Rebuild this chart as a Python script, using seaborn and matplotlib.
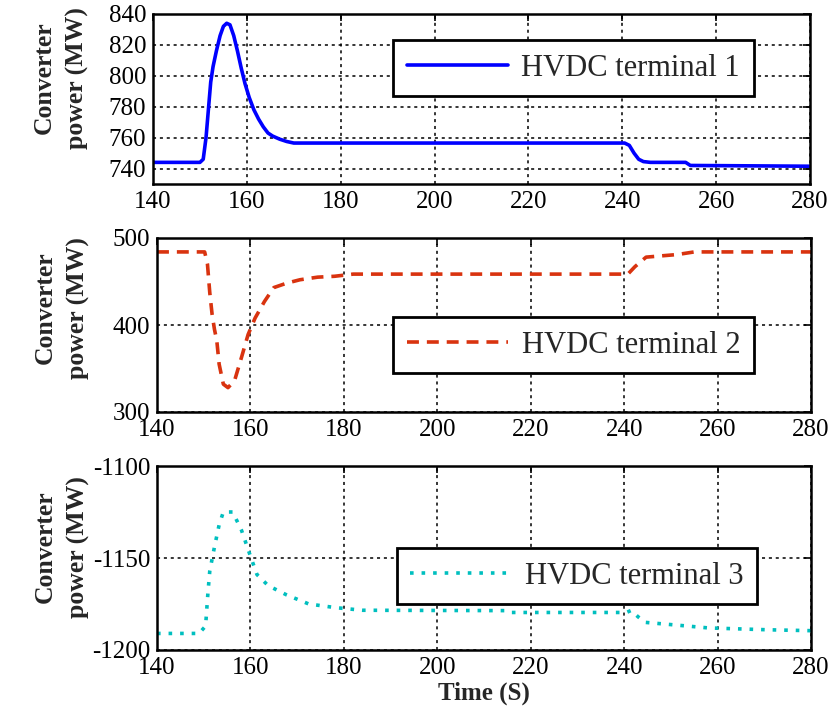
import matplotlib
matplotlib.use("Agg")
import matplotlib.pyplot as plt
import seaborn as sns
import pandas as pd

# ---- data ----
t1 = [140, 150, 150.7, 151.3, 151.8, 152.3, 152.8, 153.5, 154.3, 155.0, 155.7, 156.4,
      157.2, 158.0, 158.8, 159.6, 160.5, 161.5, 162.5, 163.5, 164.5, 165.5, 167, 168.5,
      170, 240.5, 241.5, 242.5, 243.5, 244.5, 246, 253.5, 254.5, 280]
p1 = [744, 744, 746, 760, 778, 796, 806, 816, 826, 832, 834, 833,
      826, 816, 805, 795, 786, 778, 772, 767, 763, 761, 759, 757.5,
      756.5, 756.5, 755, 750, 746, 744.5, 744, 744, 742, 741.5]

t2 = [140, 150.2, 150.8, 151.3, 151.8, 152.3, 152.8, 153.3, 154.2, 155.2, 156.6, 158.1,
      159.5, 161, 163, 165, 167.7, 170.6, 174.4, 178, 182, 240.8, 242.3, 244.7, 251.4,
      255, 280]
p2 = [484, 484, 470, 437, 412, 395, 382, 355, 332, 328, 336, 363,
      389, 408, 427, 443, 448, 452, 455, 456, 458.5, 458.5, 467, 478, 481,
      484, 484]

t3 = [140, 149, 150.4, 150.9, 151.3, 152.3, 153.3, 154.2, 156.2, 158.1, 160, 161.4,
      163.8, 167.7, 172.5, 178.3, 184, 214.8, 215.8, 240.5, 241.5, 243, 244.6,
      251.4, 258, 270.6, 280]
p3 = [-1191, -1191, -1187, -1169, -1157, -1144, -1132, -1125, -1125, -1135, -1149, -1159,
      -1165, -1170, -1175, -1177, -1178.4, -1178.6, -1179.6, -1179.6, -1178.5, -1182, -1185,
      -1186.5, -1188, -1189, -1189.5]

series_labels = ["HVDC terminal 1", "HVDC terminal 2", "HVDC terminal 3"]
x_ticks = [140, 160, 180, 200, 220, 240, 260, 280]
y_ticks = [[740, 760, 780, 800, 820, 840], [300, 400, 500], [-1200, -1150, -1100]]
y_lims = [(730, 840), (300, 500), (-1200, -1100)]

sns.set_style("white")
plt.rcParams["font.family"] = ["Liberation Serif", "DejaVu Serif"]
plt.rcParams["axes.unicode_minus"] = False

fig = plt.figure(figsize=(8.32, 7.23), dpi=100)
positions = [
    [153 / 832, 1 - 184 / 723, 657 / 832, 170 / 723],
    [157 / 832, 1 - 412 / 723, 654 / 832, 174 / 723],
    [157 / 832, 1 - 650 / 723, 654 / 832, 184 / 723],
]
colors = ["#0000FF", "#D9330F", "#00BFBF"]
styles = ["-", (0, (3.3, 2.2)), (0, (1, 2.2))]
datas = [(t1, p1), (t2, p2), (t3, p3)]
leg_pos = [(0.640, 0.682), (0.637, 0.385), (0.642, 0.402)]
ylabel_xy = [(-0.098, 0.624), (-0.103, 0.598), (-0.103, 0.56)]

axes = []
for i in range(3):
    ax = fig.add_axes(positions[i])
    axes.append(ax)
    df = pd.DataFrame({"t": datas[i][0], "p": datas[i][1]})
    sns.lineplot(data=df, x="t", y="p", ax=ax, color=colors[i], linewidth=2.6,
                 label=series_labels[i], estimator=None, sort=False)
    ax.lines[0].set_linestyle(styles[i])
    ax.set_xlim(140, 280)
    ax.set_ylim(*y_lims[i])
    ax.set_xticks(x_ticks)
    ax.set_yticks(y_ticks[i])
    ax.grid(True, color="black", linestyle=(0, (2, 2.5)), linewidth=1.1)
    for s in ax.spines.values():
        s.set_color("black")
        s.set_linewidth(1.8)
    ax.tick_params(direction="in", length=5, width=1.2, top=True, right=True,
                   labelsize=18, pad=5, colors="black")
    ax.set_xlabel("")
    ax.set_ylabel("Converter\npower (MW)", fontsize=18.5, fontweight="bold", linespacing=1.5)
    ax.yaxis.set_label_coords(*ylabel_xy[i])
    leg = ax.legend(loc="center", bbox_to_anchor=leg_pos[i], fontsize=22, frameon=True,
                    fancybox=False, framealpha=1, edgecolor="black", handlelength=3.3,
                    handletextpad=0.45, borderpad=0.45, borderaxespad=0)
    leg.get_frame().set_linewidth(2.0)
    for lh in leg.get_lines():
        lh.set_linewidth(2.6)

axes[2].set_xlabel("Time (S)", fontsize=18, fontweight="bold", labelpad=2)

fig.savefig("out.png", dpi=100)
